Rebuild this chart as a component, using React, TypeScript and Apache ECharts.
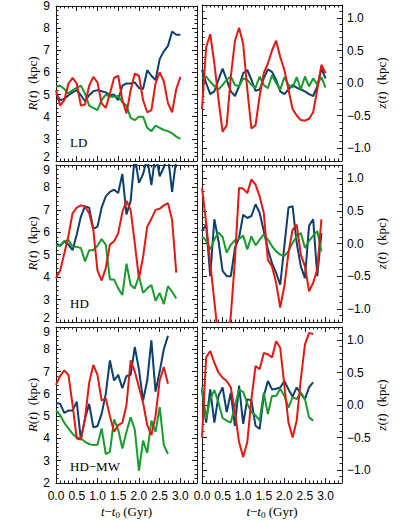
import React, { useEffect, useRef } from "react";
import * as echarts from "echarts";

// time grids (Gyr)
const T_LD = [0, 0.1, 0.2, 0.3, 0.4, 0.5, 0.6, 0.7, 0.8, 0.9, 1.0, 1.1, 1.2, 1.3, 1.4, 1.5, 1.6, 1.7, 1.8, 1.9, 2.0, 2.1, 2.2, 2.3, 2.4, 2.5, 2.6, 2.7, 2.8, 2.9, 3.0];
const T_HD = [0, 0.1, 0.2, 0.3, 0.4, 0.5, 0.6, 0.7, 0.8, 0.9, 1.0, 1.1, 1.2, 1.3, 1.4, 1.5, 1.6, 1.7, 1.8, 1.9, 2.0, 2.1, 2.2, 2.3, 2.4, 2.5, 2.6, 2.7, 2.8, 2.9];
const T_MW = [0, 0.1, 0.2, 0.3, 0.4, 0.5, 0.6, 0.7, 0.8, 0.9, 1.0, 1.1, 1.2, 1.3, 1.4, 1.5, 1.6, 1.7, 1.8, 1.9, 2.0, 2.1, 2.2, 2.3, 2.4, 2.5, 2.6, 2.7];

// LD
const LD_R_BLUE = [5.05, 4.75, 4.8, 4.97, 5.1, 5.2, 4.97, 4.7, 4.97, 5.15, 5.2, 5.15, 5.1, 4.97, 5.0, 4.75, 5.4, 5.5, 5.5, 5.55, 5.3, 5.25, 6.1, 5.85, 5.65, 6.6, 6.95, 7.2, 7.85, 7.7, 7.7];
const LD_R_GREEN = [5.35, 5.4, 5.25, 5.05, 5.2, 5.3, 5.4, 5.05, 4.5, 4.4, 4.3, 4.75, 5.0, 4.9, 4.9, 4.95, 4.65, 4.5, 3.95, 3.85, 4.0, 4.0, 3.5, 3.35, 3.6, 3.5, 3.4, 3.35, 3.25, 3.1, 3.0];
const LD_R_RED = [5.2, 4.5, 4.75, 5.5, 5.75, 5.5, 4.5, 4.55, 5.4, 5.8, 5.55, 4.6, 4.4, 5.05, 5.75, 5.85, 4.75, 4.15, 5.2, 5.95, 5.85, 4.75, 4.2, 4.3, 5.5, 6.0, 5.6, 4.6, 4.2, 5.25, 5.8];
const LD_Z_BLUE = [0.2, 0, -0.17, -0.13, 0.05, 0.22, 0.05, -0.13, -0.2, -0.05, 0.15, 0.2, 0.05, -0.12, -0.1, 0.07, 0.21, 0.17, 0.05, -0.13, -0.17, -0.1, -0.03, -0.07, -0.1, -0.13, -0.17, -0.2, -0.05, 0.22, 0.07];
const LD_Z_GREEN = [0.07, 0.1, 0.02, -0.05, -0.1, -0.03, 0.05, 0.1, -0.03, -0.05, 0.07, 0.05, -0.03, -0.07, 0.1, -0.03, -0.08, 0.12, 0, -0.1, 0.09, -0.03, -0.07, 0.09, -0.1, 0.1, -0.05, 0.07, -0.02, 0.09, -0.07];
const LD_Z_RED = [-0.4, 0.55, 0.75, 0.3, -0.25, -0.75, -0.65, 0.1, 0.65, 0.85, 0.6, -0.1, -0.7, -0.65, -0.2, 0.15, 0.3, 0.5, 0.65, 0.4, 0.2, -0.1, -0.4, -0.5, -0.57, -0.58, -0.55, -0.45, -0.1, 0.28, 0.15];

// HD
const HD_R_BLUE = [5.5, 5.4, 5.6, 5.45, 5.2, 5.9, 6.7, 7.15, 7.1, 6.15, 6.25, 7.1, 7.6, 7.8, 7.9, 7.75, 8.6, 6.8, 7.4, 9.4, 8.2, 8.6, 9.3, 8.1, 9.5, 8.5, 8.9, 9.4, 7.8, 9.3];
const HD_R_GREEN = [5.4, 5.4, 5.6, 5.65, 5.35, 5.35, 5.3, 4.7, 5.2, 5.2, 5.4, 5.7, 5.45, 3.9, 3.9, 3.5, 3.2, 4.6, 3.65, 3.5, 4.05, 3.3, 3.5, 3.65, 2.95, 3.3, 2.8, 3.6, 3.35, 3.05];
const HD_R_RED = [3.95, 4.3, 5.05, 5.85, 6.85, 7.1, 7.2, 7.15, 6.85, 6.1, 4.3, 3.85, 4.4, 5.45, 5.6, 5.95, 6.9, 7.4, 7.0, 5.5, 3.95, 4.9, 6.25, 6.6, 7.0, 7.05, 7.2, 7.3, 6.55, 4.2];
const HD_Z_BLUE = [0.19, 0.29, -0.5, 0.37, 0.04, -0.42, -0.5, -0.5, -0.07, 0.09, 0.44, 0.39, 0.42, 0.6, 0.47, 0.19, -0.09, -0.3, -0.45, -0.63, -0.04, 0.55, 0.57, 0.01, -0.35, -0.53, 0.27, 0.37, -0.5, 0.16];
const HD_Z_GREEN = [0.11, 0.04, -0.09, 0.06, 0.17, 0.1, -0.14, -0.02, 0.05, 0.07, 0.12, -0.09, 0.11, -0.03, 0.06, 0.14, 0.06, -0.04, -0.12, -0.17, -0.19, -0.12, 0.01, 0.11, 0.16, -0.07, 0.04, 0.12, 0.19, -0.12];
const HD_Z_RED = [0.85, 0.32, -0.3, -0.88, -1.47, -1.9, -1.6, -1.1, -0.25, 0.85, 0.84, 0.77, 0.98, 0.9, 0.72, 0.47, -0.25, -0.35, -0.6, -0.98, -0.65, -0.14, 0.21, 0.29, -0.17, -0.35, -0.73, -0.6, -0.4, 0.37];

// HD-MW
const MW_R_BLUE = [5.6, 5.55, 5.15, 5.25, 5.25, 5.65, 3.95, 4.9, 5.55, 4.5, 4.55, 5.1, 6.0, 7.5, 6.6, 6.85, 6.25, 6.8, 6.85, 8.1, 7.1, 5.7, 6.6, 8.4, 6.1, 7.0, 8.0, 8.6];
const MW_R_GREEN = [5.25, 5.05, 4.7, 4.45, 4.2, 4.05, 4.0, 3.85, 3.75, 3.7, 3.72, 4.45, 3.3, 3.4, 4.85, 4.4, 3.55, 4.3, 4.95, 4.4, 2.55, 3.9, 3.35, 4.8, 4.3, 5.4, 3.7, 3.3];
const MW_R_RED = [6.4, 6.8, 7.05, 6.85, 5.5, 4.0, 3.95, 4.9, 6.5, 7.3, 6.85, 5.7, 5.8, 5.0, 4.3, 4.6, 4.7, 5.5, 7.5, 7.0, 6.3, 5.6, 4.6, 4.15, 5.0, 6.6, 7.2, 6.45];
const MW_Z_BLUE = [0.24, -0.27, 0.24, -0.27, 0.14, 0.27, -0.11, 0.19, -0.32, 0.3, -0.29, 0.09, 0.07, -0.32, -0.37, 0.14, 0.37, 0.24, 0.25, 0.27, 0.37, 0.24, 0.13, 0.27, 0.17, 0.09, 0.27, 0.35];
const MW_Z_GREEN = [0.27, -0.21, 0.09, 0.23, 0.04, -0.2, -0.24, -0.27, -0.01, 0.24, 0.2, 0.02, -0.11, -0.16, -0.24, 0.19, -0.14, 0.14, 0.14, 0.25, 0.14, -0.04, 0.12, 0.09, 0.19, 0.09, -0.19, -0.24];
const MW_Z_RED = [-0.5, 0.73, 0.83, 0.65, 0.5, 0.42, 0.37, 0.27, -0.11, -0.57, -0.8, -0.57, 0.09, 0.6, 0.55, 0.8, 0.78, 0.73, 0.98, 0.88, 0.3, -0.27, -0.5, -0.24, 0.4, 0.93, 1.11, 1.09];

const Z_TICKS = [-1, -0.5, 0, 0.5, 1];
const PANEL_TAGS = ["LD", "HD", "HD\u2212MW"];

const BLUE = "#0c3f6e";
const GREEN = "#199a2c";
const RED = "#e01a12";
const AX = "#1a1a1a";
const SANS = "Liberation Sans";
const SERIF = "Liberation Serif";

type Panel = {
  left: number; top: number; width: number; height: number;
  kind: "R" | "Z"; t: number[]; blue: number[]; green: number[]; red: number[];
  bottom: boolean; row: number; tag?: string; tagY?: number;
};

const ROWS = [
  { top: 5, height: 156 },
  { top: 165, height: 157 },
  { top: 327, height: 156 },
];
const LEFT_COL = { left: 56, width: 141 };
const RIGHT_COL = { left: 202, width: 140 };

const panels: Panel[] = [
  { ...LEFT_COL, ...ROWS[0], row: 0, kind: "R", t: T_LD, blue: LD_R_BLUE, green: LD_R_GREEN, red: LD_R_RED, bottom: false, tag: PANEL_TAGS[0], tagY: 142.5 },
  { ...RIGHT_COL, ...ROWS[0], row: 0, kind: "Z", t: T_LD, blue: LD_Z_BLUE, green: LD_Z_GREEN, red: LD_Z_RED, bottom: false },
  { ...LEFT_COL, ...ROWS[1], row: 1, kind: "R", t: T_HD, blue: HD_R_BLUE, green: HD_R_GREEN, red: HD_R_RED, bottom: false, tag: PANEL_TAGS[1], tagY: 304 },
  { ...RIGHT_COL, ...ROWS[1], row: 1, kind: "Z", t: T_HD, blue: HD_Z_BLUE, green: HD_Z_GREEN, red: HD_Z_RED, bottom: false },
  { ...LEFT_COL, ...ROWS[2], row: 2, kind: "R", t: T_MW, blue: MW_R_BLUE, green: MW_R_GREEN, red: MW_R_RED, bottom: true, tag: PANEL_TAGS[2], tagY: 466.5 },
  { ...RIGHT_COL, ...ROWS[2], row: 2, kind: "Z", t: T_MW, blue: MW_Z_BLUE, green: MW_Z_GREEN, red: MW_Z_RED, bottom: true },
];

const nameStyle = {
  fontFamily: SERIF,
  fontSize: 13,
  color: "#000",
  rich: {
    i: { fontFamily: SERIF, fontStyle: "italic", fontSize: 13, color: "#000" },
    s: { fontFamily: SERIF, fontSize: 9, color: "#000", padding: [6, 0, 0, 0] },
  },
};

const zFmt = (v: number) => (v < 0 ? "\u2212" : "") + Math.abs(v).toFixed(1);

export default function App() {
  const ref = useRef<HTMLDivElement>(null);
  useEffect(() => {
    const chart = echarts.init(ref.current!, null, { renderer: "svg" });
    const grid: any[] = [];
    const xAxis: any[] = [];
    const yAxis: any[] = [];
    const series: any[] = [];
    const graphic: any[] = [];

    panels.forEach((p, i) => {
      grid.push({ left: p.left, top: p.top, width: p.width, height: p.height });
      const xb = xAxis.length;
      (["bottom", "top"] as const).forEach((pos) => {
        const labelled = pos === "bottom" && p.bottom;
        xAxis.push({
          type: "value", gridIndex: i, position: pos, min: 0, max: 3.4, interval: 0.5,
          axisLine: { show: true, onZero: false, lineStyle: { color: AX, width: 1 } },
          axisTick: { show: true, inside: true, length: 5, lineStyle: { color: AX } },
          minorTick: { show: true, splitNumber: 5, length: 2.5, lineStyle: { color: AX } },
          splitLine: { show: false },
          axisLabel: {
            show: labelled, showMaxLabel: false, margin: 7, color: "#000",
            fontFamily: SANS, fontSize: 12, formatter: (v: number) => v.toFixed(1),
          },
          name: labelled ? "{i|t}\u2212{i|t}{s|0} (Gyr)" : "",
          nameLocation: "middle", nameGap: 21, nameTextStyle: nameStyle,
        });
      });
      const yb = yAxis.length;
      if (p.kind === "R") {
        const shiftTop = p.row > 0; // "9" pushed down below the shared border
        const shiftBottom = p.row < 2; // "2" pushed up above the shared border
        (["left", "right"] as const).forEach((pos) => {
          const labelled = pos === "left";
          yAxis.push({
            type: "value", gridIndex: i, position: pos, min: 2, max: 9, interval: 1,
            axisLine: { show: true, onZero: false, lineStyle: { color: AX, width: 1 } },
            axisTick: { show: true, inside: true, length: 5, lineStyle: { color: AX } },
            minorTick: { show: true, splitNumber: 5, length: 2.5, lineStyle: { color: AX } },
            splitLine: { show: false },
            axisLabel: {
              show: labelled, margin: 6, color: "#000", fontFamily: SANS, fontSize: 12,
              formatter: (v: number) =>
                v === 9 && shiftTop ? "{hi|9}" : v === 2 && shiftBottom ? "{lo|2}" : String(v),
              rich: {
                hi: { fontFamily: SANS, fontSize: 12, color: "#000", padding: [10, 0, 0, 0] },
                lo: { fontFamily: SANS, fontSize: 12, color: "#000", padding: [0, 0, 9, 0] },
              },
            },
            name: labelled ? "{i|R}({i|t})  (kpc)" : "",
            nameLocation: "middle", nameGap: 16, nameRotate: 90, nameTextStyle: nameStyle,
          });
        });
      } else {
        (["right", "left"] as const).forEach((pos) => {
          const labelled = pos === "right";
          yAxis.push({
            type: "value", gridIndex: i, position: pos, min: -1.2, max: 1.2,
            axisLine: { show: true, onZero: false, lineStyle: { color: AX, width: 1 } },
            axisTick: { show: true, inside: true, length: 5, customValues: Z_TICKS, lineStyle: { color: AX } },
            splitLine: { show: false },
            axisLabel: {
              show: labelled, customValues: Z_TICKS, margin: 5, color: "#000",
              fontFamily: SANS, fontSize: 12, formatter: zFmt,
            },
            name: labelled ? "{i|z}({i|t})  (kpc)" : "",
            nameLocation: "middle", nameGap: 31, nameRotate: 90, nameTextStyle: nameStyle,
          });
          yAxis.push({
            type: "value", gridIndex: i, position: pos, min: -1.2, max: 1.2, interval: 0.1,
            axisLine: { show: false, onZero: false },
            axisTick: { show: true, inside: true, length: 2.5, lineStyle: { color: AX } },
            splitLine: { show: false },
            axisLabel: { show: false },
          });
        });
      }
      const lines: [string, number[]][] = [["blue", p.blue], ["green", p.green], ["red", p.red]];
      lines.forEach(([c, arr]) => {
        const color = c === "blue" ? BLUE : c === "green" ? GREEN : RED;
        series.push({
          type: "line", xAxisIndex: xb, yAxisIndex: yb,
          data: p.t.map((t, k) => [t, arr[k]]),
          symbol: "none", showSymbol: false, clip: true, silent: true,
          lineStyle: { width: 2, color }, itemStyle: { color },
        });
      });
      if (p.tag) {
        graphic.push({
          type: "text", left: 70, top: (p.tagY as number) - 7,
          style: { text: p.tag, fontFamily: SERIF, fontSize: 13, fill: "#000" },
        });
      }
    });

    chart.setOption({
      animation: false,
      backgroundColor: "#fff",
      grid, xAxis, yAxis, series, graphic,
    });
    return () => chart.dispose();
  }, []);
  return (
    <div
      ref={ref}
      style={{ position: "absolute", left: 0, top: 0, width: 399, height: 521, background: "#fff" }}
    />
  );
}
